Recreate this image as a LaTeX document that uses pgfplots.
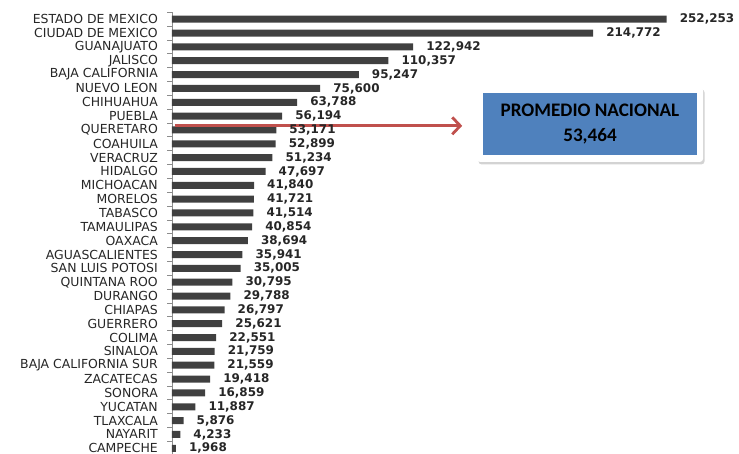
\documentclass[border=0pt]{standalone}
\usepackage{pgfplots}
\pgfplotsset{compat=1.18}
\usepackage{pgfplotstable}
\usepackage{fontspec}
\setmainfont{DejaVu Sans}
\newfontfamily\boxfont{Carlito}
\usetikzlibrary{arrows.meta,shadows}
\definecolor{bargray}{HTML}{404040}
\definecolor{txtgray}{HTML}{262626}
\definecolor{axgray}{HTML}{8C8C8C}
\definecolor{arrowred}{HTML}{C0504D}
\definecolor{boxblue}{HTML}{4F81BD}

\pgfplotstableread{
idx val
0 1968
1 4233
2 5876
3 11887
4 16859
5 19418
6 21559
7 21759
8 22551
9 25621
10 26797
11 29788
12 30795
13 35005
14 35941
15 38694
16 40854
17 41514
18 41721
19 41840
20 47697
21 51234
22 52899
23 53171
24 56194
25 63788
26 75600
27 95247
28 110357
29 122942
30 214772
31 252253
}\datatable

\begin{document}
\begin{tikzpicture}
\begin{axis}[
  scale only axis,
  width=549bp, height=442.9bp,
  xmin=0, xmax=280000,
  ymin=-0.5, ymax=31.5,
  xbar, bar width=7bp,
  axis x line=none,
  axis y line*=left,
  y axis line style={draw=axgray, line width=0.8bp, -},
  ytick={0,...,31},
  yticklabels={CAMPECHE,NAYARIT,TLAXCALA,YUCATAN,SONORA,ZACATECAS,BAJA CALIFORNIA SUR,SINALOA,COLIMA,GUERRERO,CHIAPAS,DURANGO,QUINTANA ROO,SAN LUIS POTOSI,AGUASCALIENTES,OAXACA,TAMAULIPAS,TABASCO,MORELOS,MICHOACAN,HIDALGO,VERACRUZ,COAHUILA,QUERETARO,PUEBLA,CHIHUAHUA,NUEVO LEON,BAJA CALIFORNIA,JALISCO,GUANAJUATO,CIUDAD DE MEXICO,ESTADO DE MEXICO},
  major tick length=0pt,
  minor ytick={-0.5,0.5,...,31.5},
  minor tick length=4.5bp,
  tick align=outside,
  minor tick style={draw=axgray, line width=0.8bp},
  yticklabel style={font=\fontsize{12.5}{12.5}\selectfont, text=txtgray, inner sep=0pt, xshift=-14bp},
  nodes near coords,
  point meta=x,
  nodes near coords style={font=\bfseries\fontsize{12}{12}\selectfont, text=txtgray, anchor=west, inner sep=0pt, xshift=13bp,
    /pgf/number format/.cd, fixed, precision=0, 1000 sep={,}, assume math mode=true},
  clip=false,
]
\addplot[fill=bargray, draw=none] table[x=val, y=idx] {\datatable};
\draw[color=arrowred, line width=2.8bp, -{Straight Barb[length=8bp, width=17bp, line width=2.8bp]}] (axis cs:1500,23.3) -- (axis cs:148000,23.3);
\node[fill=white, rounded corners=3bp, drop shadow={shadow xshift=1.5bp, shadow yshift=-2.5bp, opacity=0.35}, minimum width=226bp, minimum height=75bp, inner sep=0pt] at (axis cs:213190,23.4) {};
\node[fill=boxblue, minimum width=214bp, minimum height=62bp, inner sep=0pt, align=center, font=\boxfont\bfseries\fontsize{19.2}{25}\selectfont, text=black] at (axis cs:213190,23.4) {PROMEDIO NACIONAL\\53,464};
\end{axis}
\pgfresetboundingbox
\path[use as bounding box] (-172bp,1.2bp) rectangle (567bp,455.2bp);
\end{tikzpicture}
\end{document}
